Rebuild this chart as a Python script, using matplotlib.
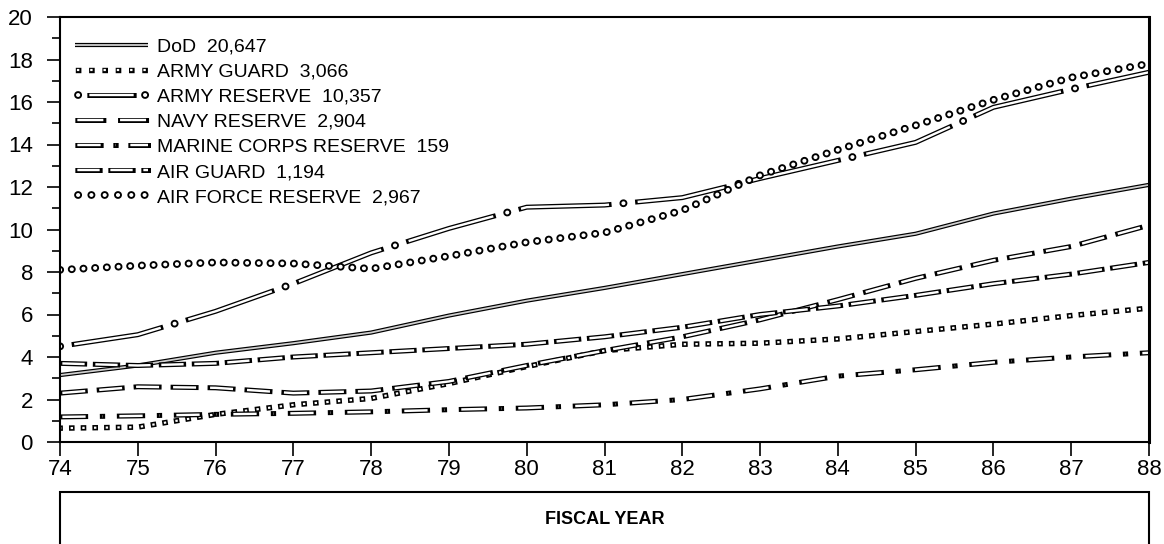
import numpy as np
import matplotlib
matplotlib.use("Agg")
from matplotlib import pyplot as plt
from matplotlib import patheffects as pe
from matplotlib.lines import Line2D
from matplotlib.patches import Rectangle
from matplotlib.legend_handler import HandlerTuple

# percent growth, fiscal years 74-88
years = np.arange(74, 89)
dod = [3.15, 3.6, 4.2, 4.65, 5.15, 5.95, 6.65, 7.25, 7.9, 8.55, 9.2, 9.8, 10.75, 11.45, 12.1]
army_guard = [0.65, 0.7, 1.3, 1.75, 2.05, 2.75, 3.55, 4.3, 4.6, 4.65, 4.85, 5.2, 5.55, 5.95, 6.3]
army_reserve = [4.5, 5.05, 6.15, 7.45, 8.9, 10.05, 11.05, 11.15, 11.5, 12.4, 13.25, 14.1, 15.75, 16.6, 17.4]
navy_reserve = [2.3, 2.6, 2.55, 2.3, 2.4, 2.85, 3.6, 4.3, 4.95, 5.75, 6.7, 7.7, 8.55, 9.2, 10.2]
marine_reserve = [1.18, 1.23, 1.3, 1.35, 1.42, 1.52, 1.6, 1.75, 2.0, 2.5, 3.1, 3.4, 3.75, 4.0, 4.2]
air_guard = [3.7, 3.6, 3.7, 4.0, 4.2, 4.4, 4.6, 4.95, 5.4, 6.0, 6.4, 6.9, 7.45, 7.9, 8.45]
air_force_reserve = [8.1, 8.3, 8.45, 8.4, 8.15, 8.75, 9.4, 9.85, 10.9, 12.55, 13.75, 14.9, 16.1, 17.15, 17.8]

labels = ["DoD  20,647", "ARMY GUARD  3,066", "ARMY RESERVE  10,357",
          "NAVY RESERVE  2,904", "MARINE CORPS RESERVE  159",
          "AIR GUARD  1,194", "AIR FORCE RESERVE  2,967"]

plt.rcParams['font.family'] = ['Liberation Sans', 'DejaVu Sans']
plt.rcParams['lines.scale_dashes'] = False

PX = 0.72  # points per pixel at 100 dpi


def ls(offset, *seq):
    # dash pattern given in pixels
    return (offset * PX, [s * PX for s in seq])


def hollow(line, outer, inner, cap="projecting", inner_cap="butt", fill="white"):
    line.set_path_effects([
        pe.Stroke(linewidth=outer * PX, foreground="black", capstyle=cap),
        pe.Stroke(linewidth=inner * PX, foreground=fill, capstyle=inner_cap)])
    return line


def proxy(style, outer, inner, cap="projecting", inner_cap="butt", fill="white"):
    l = Line2D([], [], color="k", linestyle=style)
    return hollow(l, outer, inner, cap, inner_cap, fill)


fig = plt.figure(figsize=(11.64, 5.44), dpi=100)
ax = fig.add_axes([60 / 1164, 1 - 442 / 544, 1089 / 1164, 425 / 544])

# DoD: solid double line
l, = ax.plot(years, dod, color="k", linestyle="-")
hollow(l, 4.2, 1.8, cap="butt", fill="#cfcfcf")

# Army guard: small hollow squares
l, = ax.plot(years, army_guard, color="k", linestyle=ls(0, 0.2, 11.5))
hollow(l, 5.4, 2.2, cap="projecting", inner_cap="projecting")

# Army reserve: long dash with a circle in each gap
l, = ax.plot(years, army_reserve, color="k", linestyle=ls(102.65, 88.3, 28.7))
hollow(l, 5.0, 2.4)
l, = ax.plot(years, army_reserve, color="k", linestyle=ls(0, 0.2, 116.8))
hollow(l, 7.8, 4.0, cap="round", inner_cap="round")

# Navy reserve: long dashes
l, = ax.plot(years, navy_reserve, color="k", linestyle=ls(34.65, 23.0, 14.0))
hollow(l, 5.0, 2.4)

# Marine corps reserve: dash, square, dash
l, = ax.plot(years, marine_reserve, color="k",
             linestyle=ls(54.65, 23.3, 16.7, 0.3, 16.7))
hollow(l, 5.0, 2.4)

# Air guard: medium dashes
l, = ax.plot(years, air_guard, color="k", linestyle=ls(30.65, 22.3, 10.7))
hollow(l, 5.0, 2.4)

# Air force reserve: hollow circles
l, = ax.plot(years, air_force_reserve, color="k", linestyle=ls(0, 0.2, 11.5))
hollow(l, 7.8, 4.0, cap="round", inner_cap="round")

# legend handles, patterns fitted to the short handle
handles = [
    proxy("-", 4.2, 1.8, cap="butt", fill="#cfcfcf"),
    proxy(ls(10.3, 0.2, 13.1), 5.4, 2.2, inner_cap="projecting"),
    (proxy(ls(229.95, 44.3, 200.0), 5.0, 2.4),
     proxy(ls(64.0, 0.2, 66.8), 7.8, 4.0, cap="round", inner_cap="round")),
    proxy(ls(40.35, 26.0, 16.7), 5.0, 2.4),
    proxy(ls(50.65, 23.3, 14.7, 0.3, 14.7), 5.0, 2.4),
    proxy(ls(30.65, 22.3, 10.7), 5.0, 2.4),
    proxy(ls(10.3, 0.2, 13.1), 7.8, 4.0, cap="round", inner_cap="round"),
]
ax.legend(handles, labels, loc="upper left", bbox_to_anchor=(15 / 1089, 1 - 21 / 425),
          frameon=False, fontsize=14, handlelength=3.76, handletextpad=0.46,
          labelspacing=0.385, borderaxespad=0, borderpad=0,
          handler_map={tuple: HandlerTuple(ndivide=1, pad=0)})

ax.set_xlim(74, 88)
ax.set_ylim(0, 20)
ax.set_xticks(years)
ax.set_xticklabels([str(y) for y in years])
ax.set_yticks(range(0, 21, 2))
ax.set_yticks(range(0, 21, 1), minor=True)
ax.tick_params(axis="y", which="major", direction="out", length=9.5, width=1.2,
               pad=10, labelsize=16)
ax.tick_params(axis="y", which="minor", direction="out", length=6, width=1.2)
ax.tick_params(axis="x", direction="out", length=10, width=1.2, pad=2, labelsize=16)
for s in ax.spines.values():
    s.set_linewidth(1.5)
ax.spines["right"].set_linewidth(2.2)

# box under the axis holding the axis title
fig.add_artist(Rectangle((60 / 1164, -0.2), 1089 / 1164, 0.2 + (1 - 492 / 544),
                         transform=fig.transFigure, fill=False, lw=1.5,
                         clip_on=False))
fig.text(604.5 / 1164, 1 - 520 / 544, "FISCAL YEAR", ha="center", va="center",
         fontweight="bold", fontsize=13)

plt.savefig("out.png", dpi=100)
